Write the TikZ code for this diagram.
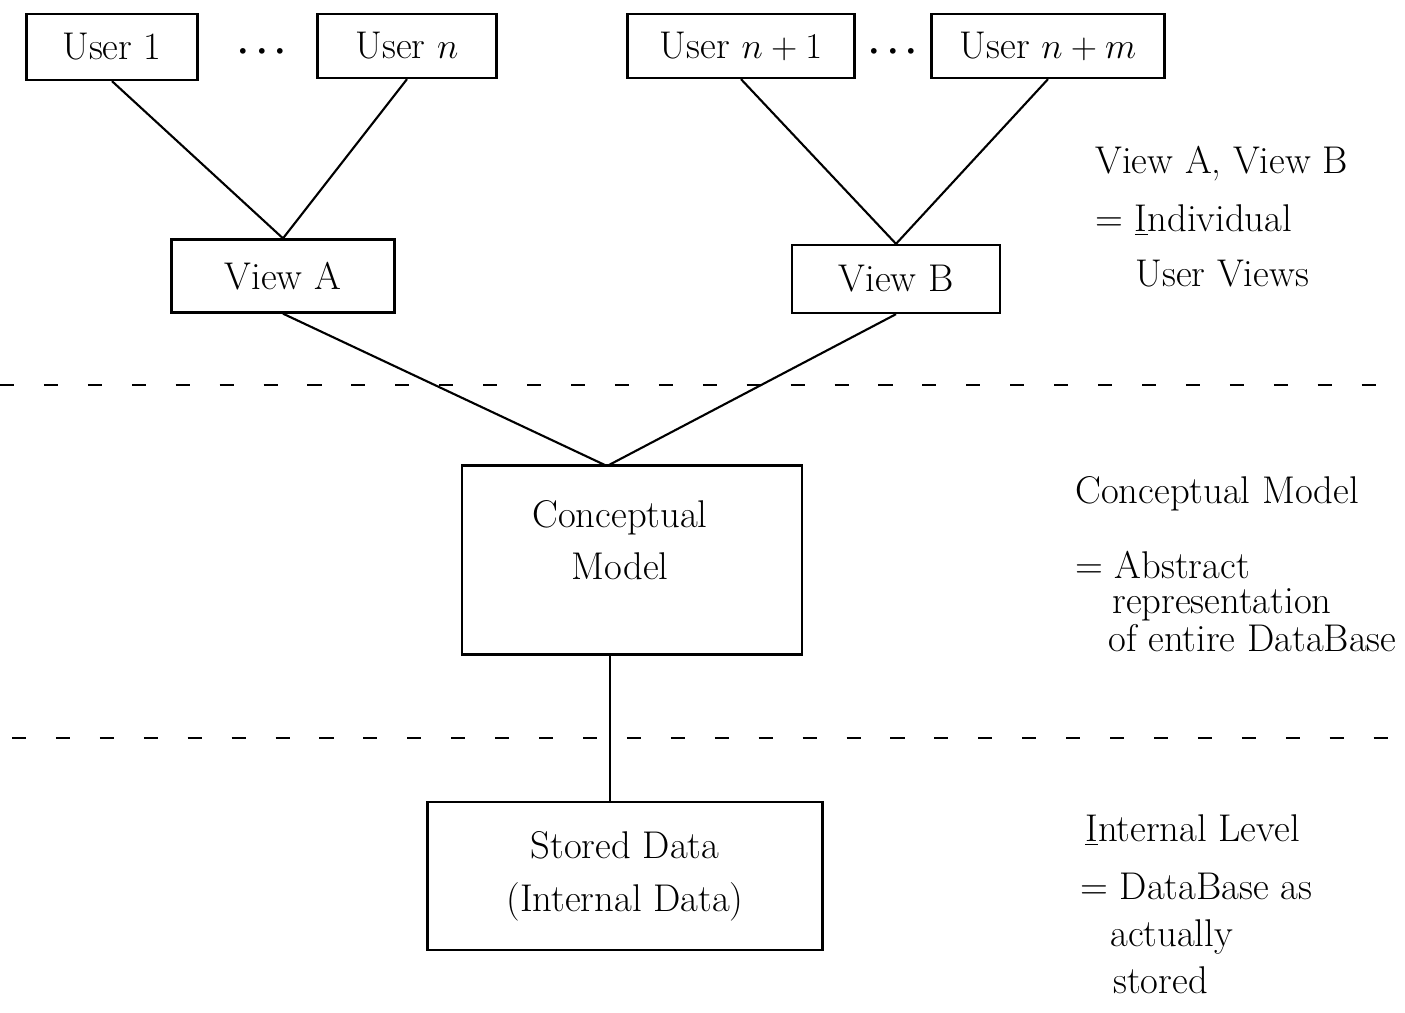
\documentclass[tikz,border=0pt]{standalone}
\usepackage{tikz}
\usetikzlibrary{positioning}

\begin{document}
\begin{tikzpicture}[
    x=0.02cm, y=-0.02cm,
    box/.style={rectangle, draw=black, line width=1.3pt, align=center, inner sep=2pt, font=\fontsize{22}{30}\selectfont},
    note/.style={anchor=mid west, inner sep=0pt, font=\fontsize{22}{26}\selectfont},
    link/.style={line width=1.2pt, draw=black},
    level/.style={line width=1.3pt, dash pattern=on 8pt off 17pt}
]
    \useasboundingbox (0,0) rectangle (1405,1012);

    % user boxes
    \node [box, minimum width=171*0.02cm, minimum height=66*0.02cm] (u1) at (112,47) {User 1};
    \node [box, minimum width=179*0.02cm, minimum height=64*0.02cm] (un) at (407,46) {User $n$};
    \node [box, minimum width=227*0.02cm, minimum height=64*0.02cm] (un1) at (741,46) {User $n+1$};
    \node [box, minimum width=233*0.02cm, minimum height=64*0.02cm] (unm) at (1048,46) {User $n+m$};
    \node [font=\fontsize{22}{26}\selectfont\boldmath] (dotsA) at (262,52) {$\cdots$};
    \node [font=\fontsize{22}{26}\selectfont\boldmath] (dotsB) at (893,52) {$\cdots$};

    % views
    \node [box, minimum width=223*0.02cm, minimum height=73*0.02cm] (va) at (283,276) {View A};
    \node [box, minimum width=208*0.02cm, minimum height=68*0.02cm] (vb) at (896,279) {View B};

    % conceptual and internal
    \node [box, minimum width=340*0.02cm, minimum height=189*0.02cm] (cm) at (632,560) {};
    \node [align=center, font=\fontsize{22}{30}\selectfont] (cmtext) at (620,540) {Conceptual\\Model};
    \node [box, minimum width=395*0.02cm, minimum height=148*0.02cm] (sd) at (625,876) {Stored Data\\(Internal Data)};
    \coordinate (cmtop) at (607,466);
    \coordinate (cmbot) at (610,655);

    % level separators
    \draw [level] (0,385) -- (1405,385);
    \draw [level] (12,738) -- (1405,738);

    \draw [link] (u1.south) -- (va.north);
    \draw [link] (un.south) -- (va.north);
    \draw [link] (un1.south) -- (vb.north);
    \draw [link] (unm.south) -- (vb.north);
    \draw [link] (va.south) -- (cmtop);
    \draw [link] (vb.south) -- (cmtop);
    \draw [link] (cmbot) -- (cmbot |- sd.north);

    % notes on the right
    \node [note] (n1) at (1095,170) {View A, View B};
    \node [note] (n2) at (1095,228) {= \underline{I}ndividual};
    \node [note] (n3) at (1135,283) {User Views};
    \node [note] (n4) at (1075,500) {Conceptual Model};
    \node [note] (n5) at (1075,575) {= Abstract};
    \node [note] (n6) at (1112,610) {representation};
    \node [note] (n7) at (1108,648) {of entire DataBase};
    \node [note] (n8) at (1085,838) {\underline{I}nternal Level};
    \node [note] (n9) at (1080,896) {= DataBase as};
    \node [note] (n10) at (1110,943) {actually};
    \node [note] (n11) at (1113,990) {stored};
\end{tikzpicture}
\end{document}
